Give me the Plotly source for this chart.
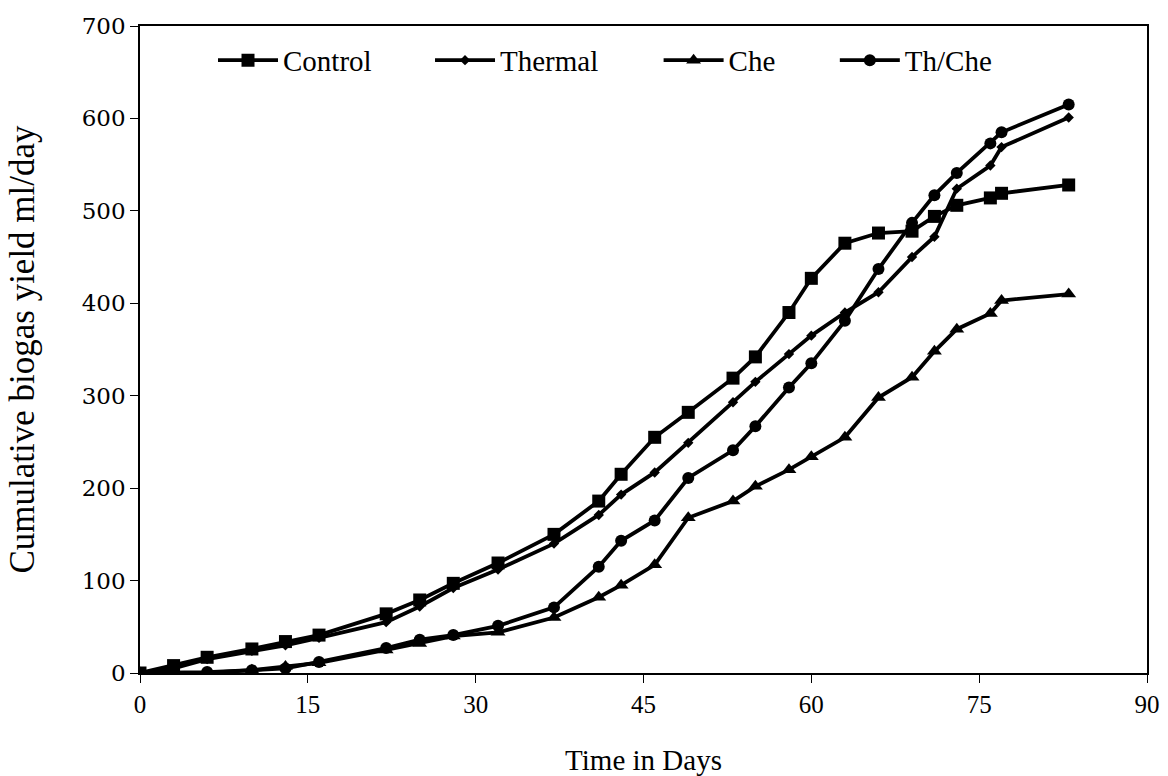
import plotly.graph_objects as go

days = [0, 3, 6, 10, 13, 16, 22, 25, 28, 32, 37, 41, 43, 46, 49, 53, 55, 58, 60, 63, 66, 69, 71, 73, 76, 77, 83]

control = [0, 8, 17, 26, 34, 41, 64, 79, 97, 119, 150, 186, 215, 255, 282, 319, 342, 390, 427, 465, 476, 478, 494, 506, 514, 519, 528]
thermal = [0, 5, 15, 24, 30, 38, 55, 72, 92, 112, 140, 171, 193, 217, 249, 293, 315, 345, 365, 390, 412, 450, 472, 524, 549, 569, 601]
che = [0, 0, 0, 3, 7, 11, 25, 32, 40, 44, 60, 82, 95, 117, 168, 186, 202, 220, 234, 255, 298, 320, 348, 372, 389, 403, 410]
thche = [0, 0, 1, 3, 5, 12, 27, 36, 41, 51, 71, 115, 143, 165, 211, 241, 267, 309, 335, 381, 437, 487, 517, 541, 573, 585, 615]

series = [
    ("Control", control, "square", 13, "legend", 0.0725),
    ("Thermal", thermal, "diamond", 8, "legend2", 0.288),
    ("Che", che, "triangle-up", 13, "legend3", 0.515),
    ("Th/Che", thche, "circle", 12, "legend4", 0.690),
]

serif = "Liberation Serif, Times New Roman, serif"

fig = go.Figure()
legends = {}
for name, vals, sym, size, leg, lx in series:
    fig.add_trace(go.Scatter(
        x=days, y=vals, name=name, mode="lines+markers", legend=leg,
        line=dict(color="black", width=3.8),
        marker=dict(symbol=sym, size=size, color="black"),
    ))
    legends[leg] = dict(
        x=lx, y=0.947, xanchor="left", yanchor="middle",
        orientation="h", bgcolor="rgba(0,0,0,0)", itemwidth=60,
        font=dict(family=serif, size=29, color="black"),
    )

fig.update_layout(
    width=1168, height=776,
    margin=dict(l=140, r=21, t=26, b=103),
    paper_bgcolor="white", plot_bgcolor="white",
    font=dict(family=serif, size=25, color="black"),
    showlegend=True,
    **legends,
)
fig.update_xaxes(
    range=[0, 90], tickvals=[0, 15, 30, 45, 60, 75, 90],
    showgrid=False, zeroline=False, automargin=False,
    showline=True, linecolor="black", linewidth=1.5, mirror=True,
    ticks="outside", ticklen=8, tickcolor="black",
    title=dict(text="Time in Days", standoff=38,
               font=dict(family=serif, size=29, color="black")),
    tickfont=dict(family=serif, size=25, color="black"),
)
fig.update_yaxes(
    range=[0, 700], tickvals=[0, 100, 200, 300, 400, 500, 600, 700],
    showgrid=False, zeroline=False, automargin=False,
    showline=True, linecolor="black", linewidth=1.5, mirror=True,
    ticks="outside", ticklen=8, tickcolor="black",
    title=dict(text="Cumulative biogas yield ml/day", standoff=36,
               font=dict(family=serif, size=35, color="black")),
    tickfont=dict(family="DejaVu Serif, serif", size=23, color="black"),
)

fig.write_html("out.html")
